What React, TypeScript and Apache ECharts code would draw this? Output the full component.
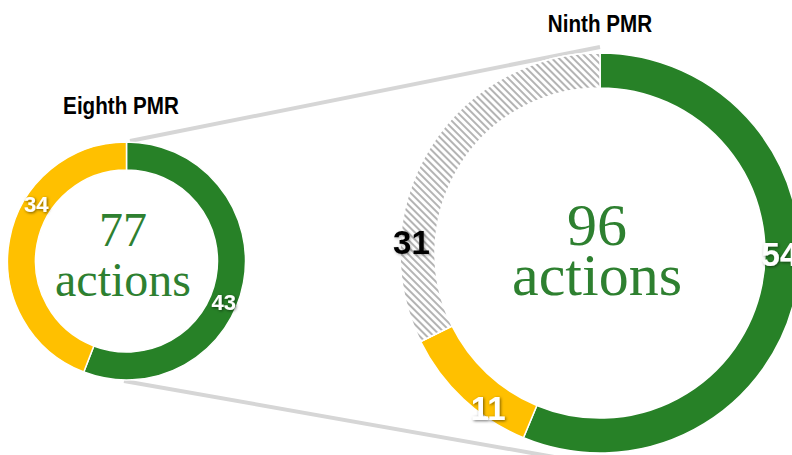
import React, { useEffect, useRef } from "react";
import * as echarts from "echarts";

const eighthNames = ["Completed", "Ongoing"];
const eighthValues = [43, 34];
const ninthNames = ["Completed", "Ongoing", "New"];
const ninthValues = [54, 11, 31];
const titles = ["Eighth PMR", "Ninth PMR"];
const totals = [77, 96];

const GREEN = "#278127";
const YELLOW = "#FFC000";
const TEXT_GREEN = "#2E8030";
const SANS = "'Liberation Sans Narrow', 'Arial Narrow', 'Liberation Sans', Arial, sans-serif";

export default function App() {
  const ref = useRef<HTMLDivElement>(null);
  useEffect(() => {
    document.body.style.margin = "0";
    const chart = echarts.init(ref.current!, null, { renderer: "svg" });
    const labelBase = {
      show: true,
      position: "inside",
      fontFamily: SANS,
      fontWeight: "bold",
      color: "#fff",
      textShadowColor: "rgba(0,0,0,0.55)",
      textShadowBlur: 3,
      textShadowOffsetX: 1,
      textShadowOffsetY: 1,
      formatter: "{c}",
    };
    const eighthOffsets = [[-9, 22], [16, -37]];
    const ninthOffsets = [[-2, -35], [15, 20], [-31, 87]];
    const colorsE = [GREEN, YELLOW];
    const colorsN = [GREEN, YELLOW, "#ffffff"];
    const centerText = (x: number, y: number, total: number, size: number, lh: number) => ({
      type: "text",
      x,
      y,
      z: 10,
      style: {
        text: `${total}\nactions`,
        textAlign: "center",
        textVerticalAlign: "middle",
        font: `${size}px 'Liberation Serif', 'Times New Roman', serif`,
        lineHeight: lh,
        fill: TEXT_GREEN,
        shadowColor: "rgba(0,0,0,0.35)",
        shadowBlur: 3,
        shadowOffsetX: 2,
        shadowOffsetY: 2,
      },
    });
    const titleText = (x: number, y: number, text: string) => ({
      type: "text",
      x,
      y,
      scaleX: 0.86,
      style: {
        text,
        textAlign: "center",
        textVerticalAlign: "middle",
        font: `bold 24px ${SANS}`,
        fill: "#000",
      },
    });
    chart.setOption({
      animation: false,
      graphic: [
        {
          type: "line",
          z: 0,
          shape: { x1: 130, y1: 141, x2: 600, y2: 47 },
          style: { stroke: "#d6d6d6", lineWidth: 4 },
        },
        {
          type: "line",
          z: 0,
          shape: { x1: 124, y1: 381, x2: 560, y2: 458 },
          style: { stroke: "#d6d6d6", lineWidth: 4 },
        },
        titleText(121, 106, titles[0]),
        titleText(600, 24, titles[1]),
        centerText(123, 254, totals[0], 48, 50),
        centerText(597, 250, totals[1], 60, 50),
      ],
      series: [
        {
          type: "pie",
          center: [126.5, 261],
          radius: [91, 119],
          startAngle: 90,
          clockwise: true,
          z: 2,
          itemStyle: { borderColor: "#fff", borderWidth: 1.5 },
          labelLine: { show: false },
          emphasis: { disabled: true },
          data: eighthValues.map((v, i) => ({
            name: eighthNames[i],
            value: v,
            itemStyle: { color: colorsE[i] },
            label: { ...labelBase, fontSize: 22, offset: eighthOffsets[i] },
          })),
        },
        {
          type: "pie",
          center: [600, 253],
          radius: [165, 200],
          startAngle: 90,
          clockwise: true,
          z: 2,
          itemStyle: { borderColor: "#fff", borderWidth: 1.5 },
          labelLine: { show: false },
          emphasis: { disabled: true },
          data: ninthValues.map((v, i) => ({
            name: ninthNames[i],
            value: v,
            itemStyle:
              i === 2
                ? {
                    color: colorsN[i],
                    decal: {
                      symbol: "rect",
                      color: "#b4b4b4",
                      dashArrayX: [1, 0],
                      dashArrayY: [1.2, 2.6],
                      rotation: Math.PI / 4,
                    },
                  }
                : { color: colorsN[i] },
            label:
              i === 2
                ? { ...labelBase, fontSize: 33, color: "#000", textShadowColor: "rgba(0,0,0,0.35)", offset: ninthOffsets[i] }
                : { ...labelBase, fontSize: 33, offset: ninthOffsets[i] },
          })),
        },
      ],
    });
    return () => chart.dispose();
  }, []);
  return <div ref={ref} style={{ position: "absolute", left: 0, top: 0, width: 792, height: 455 }} />;
}
